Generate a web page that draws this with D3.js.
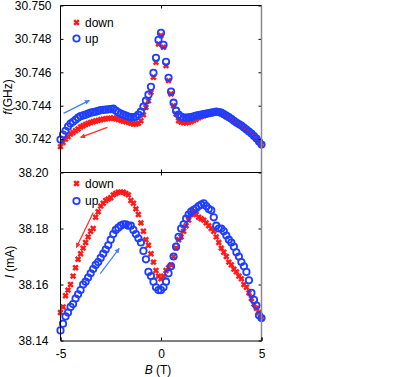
<!DOCTYPE html>
<html>
<head>
<meta charset="utf-8">
<script src="https://cdn.jsdelivr.net/npm/d3@7"></script>
<style>
body { margin: 0; background: #fff; }
text { font-family: "Liberation Sans", Arial, sans-serif; fill: #000; }
</style>
</head>
<body>
<div id="chart"></div>
<script>
// magnetic field sweep, same grid for both sweeps and both panels (T)
var fieldB = [-5.000,-4.875,-4.750,-4.625,-4.500,-4.375,-4.250,-4.125,-4.000,-3.875,
	-3.750,-3.625,-3.500,-3.375,-3.250,-3.125,-3.000,-2.875,-2.750,-2.625,
	-2.500,-2.375,-2.250,-2.125,-2.000,-1.875,-1.750,-1.625,-1.500,-1.375,
	-1.250,-1.125,-1.000,-0.875,-0.750,-0.625,-0.500,-0.375,-0.250,-0.125,
	0.000,0.125,0.250,0.375,0.500,0.625,0.750,0.875,1.000,1.125,
	1.250,1.375,1.500,1.625,1.750,1.875,2.000,2.125,2.250,2.375,
	2.500,2.625,2.750,2.875,3.000,3.125,3.250,3.375,3.500,3.625,
	3.750,3.875,4.000,4.125,4.250,4.375,4.500,4.625,4.750,4.875,5.000];

// resonance frequency f (GHz)
var freqDown = [30.74155,30.74180,30.74200,30.74215,30.74230,30.74240,30.74250,30.74260,30.74272,30.74280,
	30.74288,30.74294,30.74299,30.74304,30.74308,30.74312,30.74316,30.74319,30.74322,30.74324,
	30.74325,30.74326,30.74322,30.74317,30.74312,30.74308,30.74304,30.74300,30.74295,30.74290,
	30.74290,30.74295,30.74310,30.74345,30.74390,30.74430,30.74480,30.74570,30.74660,30.74770,
	30.74820,30.74750,30.74640,30.74550,30.74470,30.74400,30.74350,30.74310,30.74302,30.74298,
	30.74298,30.74300,30.74305,30.74312,30.74318,30.74327,30.74335,30.74340,30.74345,30.74349,
	30.74352,30.74356,30.74360,30.74356,30.74352,30.74344,30.74335,30.74326,30.74318,30.74307,
	30.74296,30.74287,30.74278,30.74266,30.74254,30.74242,30.74230,30.74215,30.74200,30.74182,30.74165];
var freqUp = [30.74197,30.74227,30.74250,30.74275,30.74293,30.74304,30.74316,30.74328,30.74337,30.74342,
	30.74346,30.74352,30.74358,30.74361,30.74364,30.74369,30.74373,30.74375,30.74376,30.74378,
	30.74379,30.74382,30.74370,30.74360,30.74352,30.74346,30.74340,30.74335,30.74331,30.74331,
	30.74334,30.74346,30.74364,30.74394,30.74430,30.74466,30.74513,30.74597,30.74687,30.74794,
	30.74836,30.74764,30.74663,30.74567,30.74484,30.74418,30.74370,30.74346,30.74334,30.74328,
	30.74328,30.74330,30.74331,30.74336,30.74340,30.74343,30.74346,30.74349,30.74352,30.74355,
	30.74358,30.74361,30.74364,30.74362,30.74358,30.74349,30.74340,30.74331,30.74322,30.74310,
	30.74299,30.74290,30.74281,30.74269,30.74257,30.74245,30.74233,30.74218,30.74203,30.74185,30.74167];

// current I (mA)
var currDown = [38.1500,38.1520,38.1560,38.1580,38.1600,38.1630,38.1660,38.1690,38.1710,38.1730,
	38.1750,38.1770,38.1790,38.1800,38.1840,38.1860,38.1880,38.1890,38.1900,38.1905,
	38.1910,38.1920,38.1925,38.1930,38.1930,38.1930,38.1925,38.1920,38.1900,38.1890,
	38.1870,38.1850,38.1820,38.1790,38.1760,38.1740,38.1710,38.1680,38.1650,38.1630,
	38.1620,38.1630,38.1650,38.1660,38.1670,38.1700,38.1730,38.1760,38.1770,38.1790,
	38.1810,38.1830,38.1850,38.1860,38.1850,38.1840,38.1835,38.1830,38.1820,38.1810,
	38.1800,38.1790,38.1770,38.1750,38.1730,38.1715,38.1700,38.1680,38.1670,38.1655,
	38.1645,38.1630,38.1620,38.1600,38.1590,38.1570,38.1550,38.1530,38.1515,38.1500,38.1480];
var currUp = [38.1436,38.1460,38.1486,38.1500,38.1520,38.1530,38.1550,38.1565,38.1580,38.1600,
	38.1610,38.1625,38.1640,38.1655,38.1670,38.1680,38.1695,38.1710,38.1725,38.1740,
	38.1760,38.1780,38.1795,38.1803,38.1810,38.1815,38.1815,38.1810,38.1810,38.1795,
	38.1780,38.1765,38.1750,38.1720,38.1690,38.1645,38.1630,38.1610,38.1590,38.1580,
	38.1580,38.1590,38.1610,38.1640,38.1665,38.1700,38.1735,38.1770,38.1800,38.1815,
	38.1835,38.1850,38.1860,38.1867,38.1872,38.1880,38.1885,38.1890,38.1880,38.1870,
	38.1865,38.1840,38.1810,38.1800,38.1800,38.1790,38.1775,38.1760,38.1750,38.1735,
	38.1715,38.1700,38.1680,38.1665,38.1645,38.1615,38.1570,38.1545,38.1525,38.1490,38.1480];

var fieldTicks = [-5, 0, 5];
var freqTicks = [30.742, 30.744, 30.746, 30.748, 30.750];
var currTicks = [38.14, 38.16, 38.18, 38.20];

var red = "#ff1a1a", blue = "#1f3fff";

var width = 402, height = 377;
var left = 60.5, right = 261.5,
	topY = 5.5, midY = 172.5, botY = 340.5;

var svg = d3.select("#chart").append("svg")
	.attr("width", width)
	.attr("height", height);

var defs = svg.append("defs");
[["headRed", "#ff2a2a"], ["headBlue", "#3d7dff"]].forEach(function(m){
	defs.append("marker")
		.attr("id", m[0])
		.attr("viewBox", "0 -5 10 10")
		.attr("refX", 9)
		.attr("refY", 0)
		.attr("markerWidth", 7)
		.attr("markerHeight", 5)
		.attr("markerUnits", "userSpaceOnUse")
		.attr("orient", "auto")
	.append("path")
		.attr("d", "M0,-5L10,0L0,5Z")
		.attr("fill", m[1]);
});

var x = d3.scaleLinear().domain([-5, 5]).range([left, right]);
var yF = d3.scaleLinear().domain([30.740, 30.750]).range([midY, topY]);
var yI = d3.scaleLinear().domain([38.14, 38.20]).range([botY, midY]);

var crossPath = d3.symbol().type(d3.symbolTimes).size(16)();

function drawPanel(yScale, down, up, ticks, fmt, labelPad, y0, y1) {
	var g = svg.append("g");
	// red crosses first, blue circles on top
	g.selectAll(".down")
		.data(fieldB)
		.enter().append("path")
			.attr("class", "down")
			.attr("d", crossPath)
			.attr("transform", function(d, i){ return "translate(" + x(d) + "," + yScale(down[i]) + ")"; })
			.attr("fill", "none")
			.attr("stroke", red)
			.attr("stroke-width", 2.5);
	g.selectAll(".up")
		.data(fieldB)
		.enter().append("circle")
			.attr("class", "up")
			.attr("cx", function(d){ return x(d); })
			.attr("cy", function(d, i){ return yScale(up[i]); })
			.attr("r", 3.2)
			.attr("fill", "none")
			.attr("stroke", blue)
			.attr("stroke-width", 1.8);

	//left axis, ticks pointing inward
	var ax = svg.append("g")
		.attr("transform", "translate(" + left + ",0)")
		.call(d3.axisLeft(yScale).tickValues(ticks).tickSize(-3).tickPadding(labelPad).tickFormat(fmt));
	ax.select(".domain").remove();
	ax.selectAll("text").style("font-size", "12px").style("font-family", "'Liberation Sans', Arial, sans-serif");
	//right axis
	var ar = svg.append("g")
		.attr("transform", "translate(" + right + ",0)")
		.call(d3.axisRight(yScale).tickValues(ticks).tickSize(-3).tickFormat(""));
	ar.select(".domain").remove();

	//frame
	svg.append("line").attr("x1", left).attr("x2", left).attr("y1", y0).attr("y2", y1).attr("stroke", "#000");
	svg.append("line").attr("x1", right).attr("x2", right).attr("y1", y0).attr("y2", y1).attr("stroke", "#8a8a8a").attr("stroke-width", 1.5);
	return g;
}

var gTop = drawPanel(yF, freqDown, freqUp, freqTicks, d3.format(".3f"), 9, topY, midY);
var gBot = drawPanel(yI, currDown, currUp, currTicks, d3.format(".2f"), 12, midY, botY);

// horizontal frame lines with their ticks
svg.append("line").attr("x1", left).attr("x2", right).attr("y1", topY).attr("y2", topY).attr("stroke", "#000");
svg.append("line").attr("x1", left).attr("x2", right).attr("y1", midY).attr("y2", midY).attr("stroke", "#000");

var t1 = svg.append("g").attr("transform", "translate(0," + topY + ")")
	.call(d3.axisTop(x).tickValues([0]).tickSize(-3).tickFormat(""));
t1.select(".domain").remove();
var t2 = svg.append("g").attr("transform", "translate(0," + midY + ")")
	.call(d3.axisBottom(x).tickValues([0]).tickSize(-3).tickFormat(""));
t2.select(".domain").remove();
var t3 = svg.append("g").attr("transform", "translate(0," + midY + ")")
	.call(d3.axisTop(x).tickValues([0]).tickSize(-3).tickFormat(""));
t3.select(".domain").remove();
var xb = svg.append("g").attr("transform", "translate(0," + botY + ")")
	.call(d3.axisBottom(x).tickValues(fieldTicks).tickSize(-3).tickPadding(9).tickFormat(d3.format("d")));
xb.select(".domain").attr("stroke", "#000");
xb.selectAll("text").style("font-size", "12px").style("font-family", "'Liberation Sans', Arial, sans-serif");
xb.selectAll("text").text(function(d){ return d < 0 ? "-" + Math.abs(d) : d; });

//axis titles
var tf = svg.append("text")
	.attr("transform", "translate(12,97) rotate(-90)")
	.style("text-anchor", "middle")
	.style("font-size", "12px");
tf.append("tspan").style("font-style", "italic").text("f");
tf.append("tspan").text("(GHz)");

var ti = svg.append("text")
	.attr("transform", "translate(14,262) rotate(-90)")
	.style("text-anchor", "middle")
	.style("font-size", "12px");
ti.append("tspan").style("font-style", "italic").text("I");
ti.append("tspan").text(" (mA)");

var tb = svg.append("text")
	.attr("x", 158)
	.attr("y", 374)
	.style("text-anchor", "middle")
	.style("font-size", "12px");
tb.append("tspan").style("font-style", "italic").text("B");
tb.append("tspan").text(" (T)");

//legends
function legend(yTop, gap) {
	var lg = svg.append("g");
	lg.append("path")
		.attr("d", crossPath)
		.attr("transform", "translate(76.5," + yTop + ")")
		.attr("fill", "none")
		.attr("stroke", red)
		.attr("stroke-width", 2.5);
	lg.append("circle")
		.attr("cx", 76.5)
		.attr("cy", yTop + gap)
		.attr("r", 3.2)
		.attr("fill", "none")
		.attr("stroke", blue)
		.attr("stroke-width", 1.8);
	lg.append("text").attr("x", 85).attr("y", yTop).attr("dy", "0.35em").style("font-size", "12px").text("down");
	lg.append("text").attr("x", 85).attr("y", yTop + gap).attr("dy", "0.35em").style("font-size", "12px").text("up");
}
legend(22.5, 16);
legend(183.5, 17.5);

//sweep direction arrows, given in data units
var arrowsTop = [
	{b0: -4.85, v0: 30.74354, b1: -3.56, v1: 30.74432, c: "#3d7dff", m: "headBlue"},
	{b0: -2.67, v0: 30.74270, b1: -4.00, v1: 30.74210, c: "#ff2a2a", m: "headRed"}
];
var arrowsBot = [
	{b0: -3.37, v0: 38.1857, b1: -4.21, v1: 38.1732, c: "#ff2a2a", m: "headRed"},
	{b0: -3.02, v0: 38.1639, b1: -2.08, v1: 38.1729, c: "#3d7dff", m: "headBlue"}
];
function drawArrows(list, yScale) {
	svg.selectAll(null)
		.data(list)
		.enter().append("line")
			.attr("x1", function(d){ return x(d.b0); })
			.attr("y1", function(d){ return yScale(d.v0); })
			.attr("x2", function(d){ return x(d.b1); })
			.attr("y2", function(d){ return yScale(d.v1); })
			.attr("stroke", function(d){ return d.c; })
			.attr("stroke-width", 1.2)
			.attr("marker-end", function(d){ return "url(#" + d.m + ")"; });
}
drawArrows(arrowsTop, yF);
drawArrows(arrowsBot, yI);
</script>
</body>
</html>
